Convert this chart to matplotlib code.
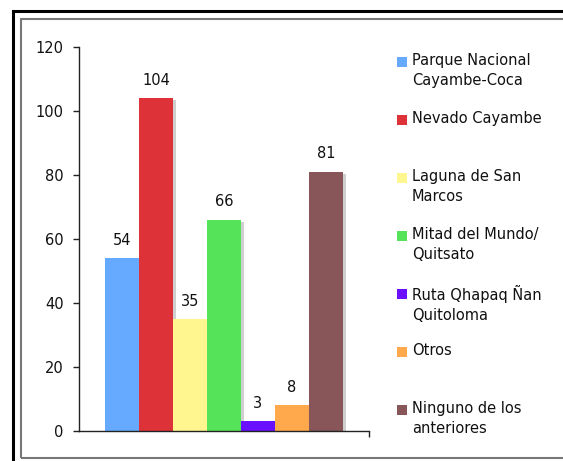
import matplotlib.pyplot as plt
from matplotlib.patches import Rectangle

categories = [
    "Parque Nacional\nCayambe-Coca",
    "Nevado Cayambe",
    "Laguna de San\nMarcos",
    "Mitad del Mundo/\nQuitsato",
    "Ruta Qhapaq Ñan\nQuitoloma",
    "Otros",
    "Ninguno de los\nanteriores",
]
values = [54, 104, 35, 66, 3, 8, 81]
colors = ["#66AAFF", "#DC3238", "#FFF68F", "#55E35A", "#6A0FFF", "#FFA84C", "#885558"]
yticks = [0, 20, 40, 60, 80, 100, 120]

W, H = 563, 461
fig = plt.figure(figsize=(W / 100, H / 100), dpi=100)
fig.patch.set_facecolor("white")

def px(x, y):
    # pixel position (from top-left) to figure fraction
    return x / W, 1 - y / H

# plot area
l, t = px(79, 47)
r, b = px(369, 431)
ax = fig.add_axes([l, b, r - l, t - b])

x = list(range(len(values)))
width = 1.0
# soft drop shadow behind each bar
sx, sy = 0.09, 0.6
ax.bar([i + sx for i in x], [v - sy for v in values], width=width,
       color="#CFCFCF", zorder=1)
ax.bar(x, values, width=width, color=colors, zorder=2)

for i, v in zip(x, values):
    ax.annotate(str(v), (i, v), xytext=(0, 7.5), textcoords="offset points",
                ha="center", va="bottom", fontsize=10.5, color="#111111")

xmin, xmax = -1.265, len(values) - 1 + 0.5 + 0.765
ax.set_xlim(xmin, xmax)
ax.set_ylim(0, 120)
ax.set_yticks(yticks)
ax.set_xticks([xmax])
ax.set_xticklabels([""])
ax.tick_params(axis="both", direction="out", length=4, width=1,
               color="#222222", labelsize=10.5, labelcolor="#111111", pad=7)
for s in ("top", "right"):
    ax.spines[s].set_visible(False)
for s in ("left", "bottom"):
    ax.spines[s].set_color("#222222")
    ax.spines[s].set_linewidth(1)

# legend drawn as squares and text down the right side
slot0, step = 62, 58
for k, (name, c) in enumerate(zip(categories, colors)):
    yc = slot0 + k * step
    sx0, sy0 = px(397, yc + 5)
    fig.patches.append(Rectangle((sx0, sy0), 10 / W, 10 / H, transform=fig.transFigure,
                                 facecolor=c, edgecolor="none"))
    tx, ty = px(412, yc - 9)
    fig.text(tx, ty, name, ha="left", va="top", fontsize=10.5,
             linespacing=1.4, color="#111111")

# double frame around the chart
ox, oy = px(13, 11)
fig.patches.append(Rectangle((ox, -0.1), 1.2, oy + 0.1, transform=fig.transFigure,
                             fill=False, edgecolor="black", linewidth=2.2))
ix, iy = px(20.5, 19.5)
_, iby = px(0, 458)
fig.patches.append(Rectangle((ix, iby), 1.2, iy - iby, transform=fig.transFigure,
                             fill=False, edgecolor="#777777", linewidth=1.5))

fig.savefig("out.png", dpi=100)
